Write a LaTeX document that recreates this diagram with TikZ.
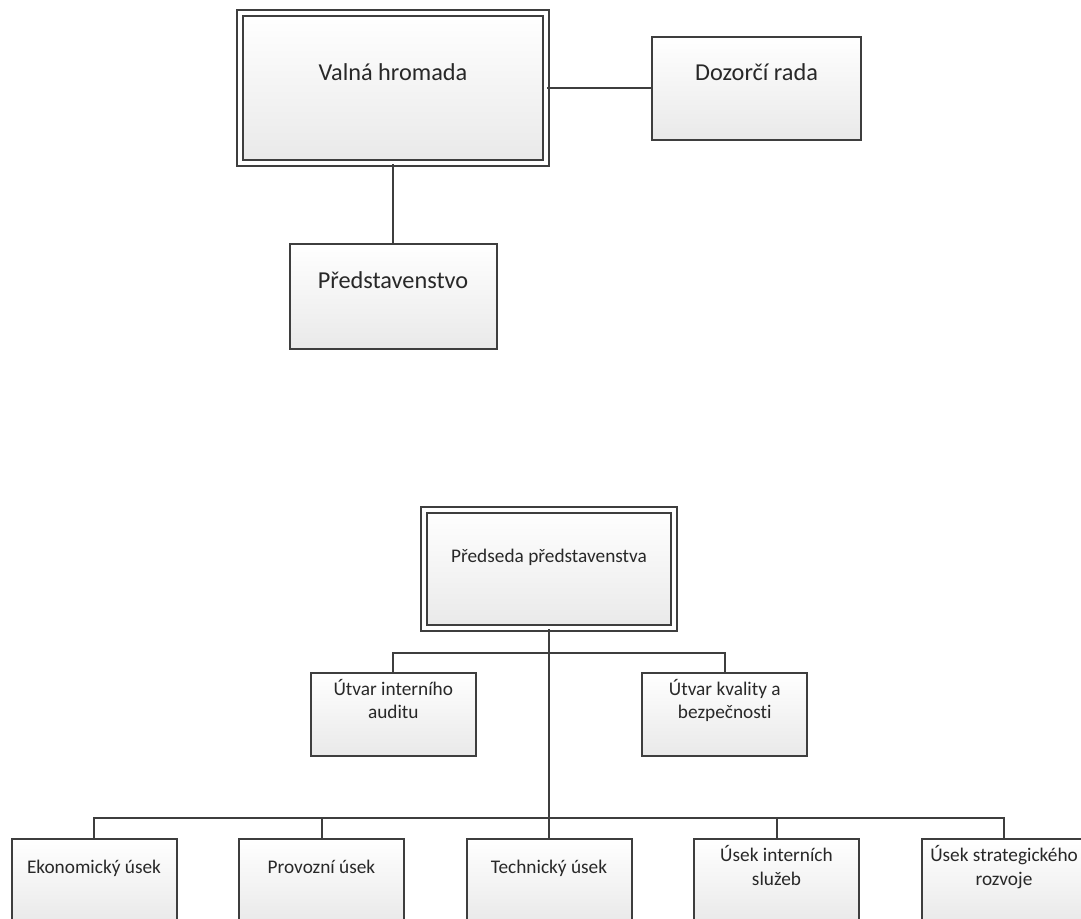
\documentclass[tikz,border=0pt]{standalone}
\usepackage{fontspec}
\setmainfont{Carlito}[Ligatures=NoCommon]
\usetikzlibrary{positioning}

\begin{document}
\begin{tikzpicture}[
    x=1pt, y=-1pt,
]

\definecolor{line_color}{RGB}{62,62,62}
\definecolor{box_bottom}{RGB}{233,233,233}
\definecolor{text_color}{RGB}{40,40,40}

\tikzstyle{sqr} = [rectangle, draw=line_color, line width=2pt, top color=white, bottom color=box_bottom, inner sep=0pt]
\tikzstyle{dbl} = [sqr, double=white, double distance=4.3pt, line width=2.2pt]
\tikzstyle{big} = [text=text_color, font=\fontsize{24.3}{29}\selectfont, anchor=base, inner sep=0pt]
\tikzstyle{small} = [text=text_color, font=\fontsize{19.3}{23.5}\selectfont, anchor=base, align=center, inner sep=0pt]
\tikzstyle{con} = [draw=line_color, line width=2pt]

\useasboundingbox (0,0) rectangle (1081,918);
\clip (0,0) rectangle (1081,918);

% upper chart
\node (valna) [dbl, minimum width=306pt, minimum height=150pt] at (393,88) {};
\node (dozorci) [sqr, minimum width=209pt, minimum height=103pt, right=104pt of valna] {};
\node (predst) [sqr, minimum width=207pt, minimum height=105pt, below=79pt of valna] {};

\node (valna_t) [big] at ([yshift=-69pt]valna.north) {Valná hromada};
\node (dozorci_t) [big] at ([yshift=-45pt]dozorci.north) {Dozorčí rada};
\node (predst_t) [big] at ([yshift=-45pt]predst.north) {Představenstvo};

% lower chart
\node (preds) [dbl, minimum width=250pt, minimum height=118pt] at (549,569) {};
\node (audit) [sqr, minimum width=165pt, minimum height=83pt] at (393.3,714) {};
\node (kval) [sqr, minimum width=165pt, minimum height=83pt, right=164.5pt of audit] {};

\node (ekon) [sqr, minimum width=165pt, minimum height=84pt] at (94,881) {};
\node (prov) [sqr, minimum width=165pt, minimum height=84pt, right=60.5pt of ekon] {};
\node (tech) [sqr, minimum width=165pt, minimum height=84pt, right=60.5pt of prov] {};
\node (inter) [sqr, minimum width=165pt, minimum height=84pt, right=60.5pt of tech] {};
\node (strat) [sqr, minimum width=165pt, minimum height=84pt, right=60.5pt of inter] {};

\node (preds_t) [small] at ([yshift=-54pt]preds.north) {Předseda představenstva};
\node (audit_t) [small] at ([yshift=-47pt]audit.north) {Útvar interního\\auditu};
\node (kval_t) [small] at ([yshift=-47pt]kval.north) {Útvar kvality a\\bezpečnosti};
\node (ekon_t) [small] at ([yshift=-35pt]ekon.north) {Ekonomický úsek};
\node (prov_t) [small] at ([yshift=-35pt]prov.north) {Provozní úsek};
\node (tech_t) [small] at ([yshift=-35pt]tech.north) {Technický úsek};
\node (inter_t) [small] at ([yshift=-47pt]inter.north) {Úsek interních\\služeb};
\node (strat_t) [small] at ([yshift=-47pt]strat.north) {Úsek strategického\\rozvoje};

\coordinate (midbus) at (549,653);
\coordinate (lowbus) at (549,818);

\draw[con] (valna.east) -- (dozorci.west);
\draw[con] (valna.south) -- (predst.north);

\draw[con] (preds.south) -- (tech.north);
\draw[con] (audit.north) |- (midbus) -| (kval.north);
\draw[con] (ekon.north) |- (lowbus) -| (strat.north);
\draw[con] (prov.north) |- (lowbus);
\draw[con] (inter.north) |- (lowbus);

\end{tikzpicture}
\end{document}
